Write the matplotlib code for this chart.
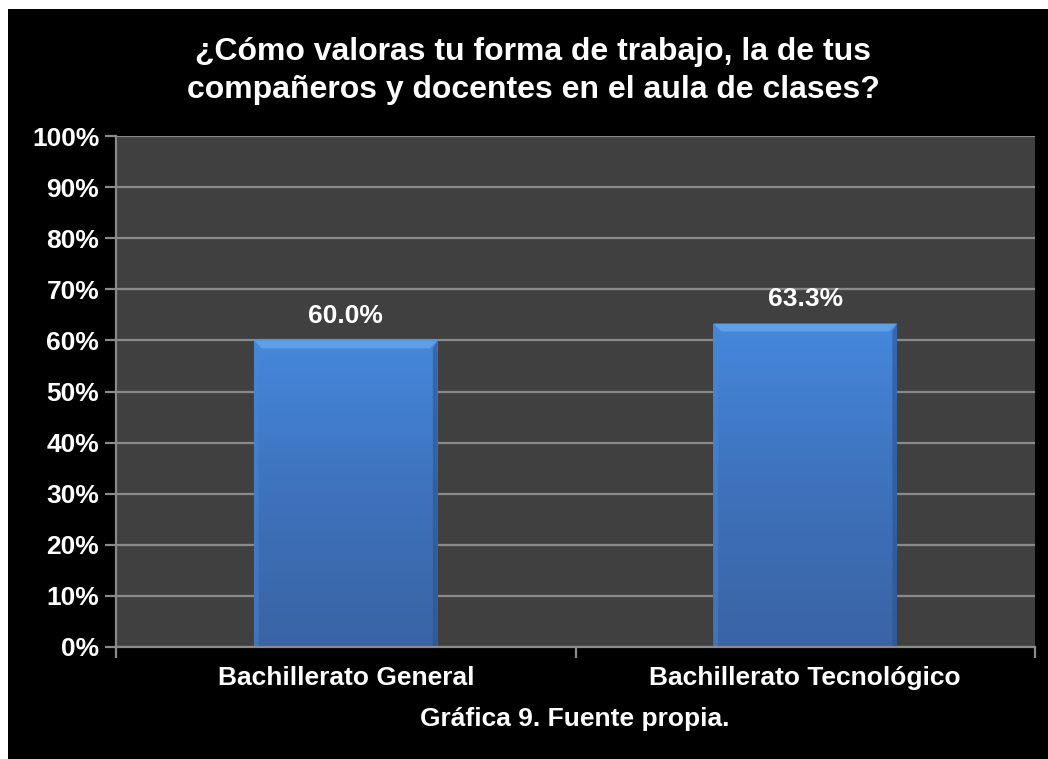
import matplotlib
matplotlib.use('Agg')
import matplotlib.pyplot as plt
import numpy as np
from matplotlib.patches import Rectangle, Polygon
from matplotlib.colors import LinearSegmentedColormap
from matplotlib.ticker import PercentFormatter, FixedLocator

# --- datos ------------------------------------------------
categorias = ['Bachillerato General', 'Bachillerato Tecnológico']
valores = [0.600, 0.633]
etiquetas = ['60.0%', '63.3%']
titulo = ['¿Cómo valoras tu forma de trabajo, la de tus',
          'compañeros y docentes en el aula de clases?']
pie = 'Gráfica 9. Fuente propia.'

plt.rcParams['font.family'] = ['Liberation Sans', 'DejaVu Sans']
plt.rcParams['font.weight'] = 'bold'

W, H = 1048, 759
fig = plt.figure(figsize=(W / 100, H / 100), dpi=100, facecolor='white')

# fondo negro con el margen blanco arriba e izquierda
fig.patches.append(Rectangle((8 / W, 0), 1, 1 - 9 / H, transform=fig.transFigure,
                             facecolor='black', edgecolor='none', zorder=-10))

ax = fig.add_axes([116 / W, 1 - 647 / H, (1035 - 116) / W, (647 - 136) / H])
ax.set_facecolor('#404040')

x = np.arange(len(categorias))
ancho = 0.4
ax.set_xlim(-0.5, len(categorias) - 0.5)
ax.set_ylim(0, 1)

# cuadrícula
ax.yaxis.set_major_locator(FixedLocator(np.linspace(0, 1, 11)))
ax.yaxis.set_major_formatter(PercentFormatter(1.0, decimals=0))
ax.grid(axis='y', color='#8a8a8a', linewidth=1.6, zorder=0)
ax.set_axisbelow(True)

for s in ['top', 'right']:
    ax.spines[s].set_visible(False)
for s in ['left', 'bottom']:
    ax.spines[s].set_color('#8a8a8a')
    ax.spines[s].set_linewidth(1.6)
ax.spines['bottom'].set_zorder(5)

fs = 19
ax.tick_params(axis='y', colors='#8a8a8a', width=1.6, length=8, labelcolor='white',
               labelsize=fs, pad=4)
ax.set_xticks(x)
ax.set_xticklabels(categorias, color='white', fontsize=fs, fontweight='bold')
ax.tick_params(axis='x', length=0, pad=14)
ax.set_xticks(np.arange(-0.5, len(categorias)), minor=True)
ax.tick_params(axis='x', which='minor', length=8, width=1.6, color='#8a8a8a')
for t in ax.get_yticklabels():
    t.set_fontweight('bold')

# barras con degradado y bisel
cmap = LinearSegmentedColormap.from_list('azul', ['#3a64a4', '#3e72bc', '#4688dc'])
grad = np.linspace(0, 1, 256).reshape(-1, 1)
bx = 8 / 459.5   # tamaño del bisel en unidades de datos
by = 8 / 511
for xi, v, lab in zip(x, valores, etiquetas):
    x0, x1 = xi - ancho / 2, xi + ancho / 2
    rect = Rectangle((x0, 0), ancho, v, facecolor='none', edgecolor='none', zorder=2)
    ax.add_patch(rect)
    im = ax.imshow(grad, extent=(x0, x1, 0, v), origin='lower', cmap=cmap,
                   aspect='auto', zorder=2, interpolation='bicubic')
    im.set_clip_path(rect)
    # bisel superior
    ax.add_patch(Polygon([(x0, v), (x1, v), (x1 - bx, v - by), (x0 + bx, v - by)],
                         closed=True, facecolor='#5f9fe8', edgecolor='none', zorder=3))
    # bisel izquierdo y derecho
    ax.add_patch(Polygon([(x0, v), (x0 + bx * 0.6, v - by), (x0 + bx * 0.6, 0), (x0, 0)],
                         closed=True, facecolor='#4a85cf', edgecolor='none', alpha=0.5, zorder=3))
    ax.add_patch(Polygon([(x1, v), (x1 - bx * 0.6, v - by), (x1 - bx * 0.6, 0), (x1, 0)],
                         closed=True, facecolor='#2b5390', edgecolor='none', alpha=0.6, zorder=3))
    ax.annotate(lab, xy=(xi, v), xytext=(0, 12.5), textcoords='offset points',
                ha='center', va='baseline', color='white', fontsize=fs, fontweight='bold')

# títulos
for linea, yb in zip(titulo, [60, 98]):
    fig.text(533 / W, 1 - yb / H, linea, ha='center', va='baseline', color='white',
             fontsize=23, fontweight='bold')
fig.text(575 / W, 1 - 726 / H, pie, ha='center', va='baseline', color='white',
         fontsize=fs, fontweight='bold')

fig.savefig('out.png', dpi=100, facecolor='white')
